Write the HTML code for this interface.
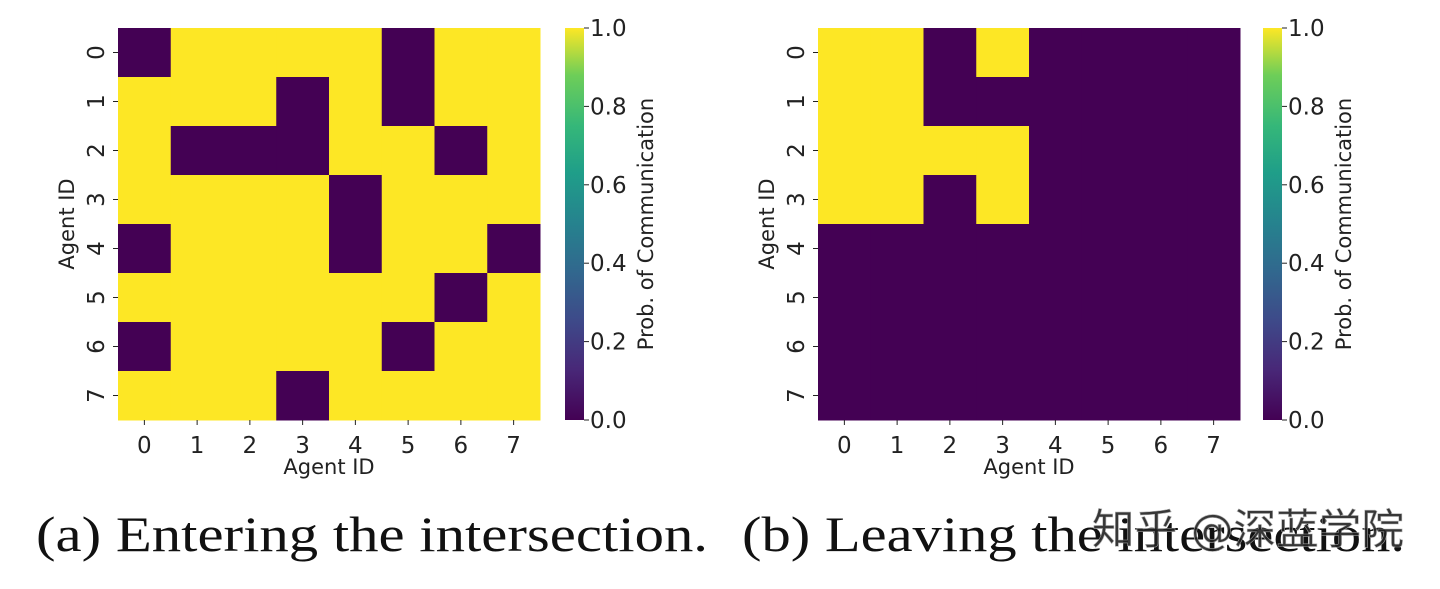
<!DOCTYPE html>
<html><head><meta charset="utf-8"><style>
html,body{margin:0;padding:0;background:#fff;width:1440px;height:589px;overflow:hidden}
svg{display:block}
text{font-family:"DejaVu Sans","Liberation Sans",sans-serif;fill:#222}
.cap{font-family:"Liberation Serif",serif;font-size:50px;fill:#111}
</style></head><body>
<svg id="chart" width="1440" height="589">
<defs>
<linearGradient id="viridis" x1="0" y1="1" x2="0" y2="0">
<stop offset="0" stop-color="#440154"/><stop offset="0.13" stop-color="#482878"/>
<stop offset="0.25" stop-color="#3e4989"/><stop offset="0.38" stop-color="#31688e"/>
<stop offset="0.5" stop-color="#26828e"/><stop offset="0.63" stop-color="#1f9e89"/>
<stop offset="0.75" stop-color="#35b779"/><stop offset="0.88" stop-color="#6ece58"/>
<stop offset="1" stop-color="#fde725"/></linearGradient>
</defs>
</svg>
<script>
const agents=[0,1,2,3,4,5,6,7];
const cbTicks=[0,0.2,0.4,0.6,0.8,1.0];
const matrixA=[
[0,1,1,1,1,0,1,1],
[1,1,1,0,1,0,1,1],
[1,0,0,0,1,1,0,1],
[1,1,1,1,0,1,1,1],
[0,1,1,1,0,1,1,0],
[1,1,1,1,1,1,0,1],
[0,1,1,1,1,0,1,1],
[1,1,1,0,1,1,1,1]];
const matrixB=[
[1,1,0,1,0,0,0,0],
[1,1,0,0,0,0,0,0],
[1,1,1,1,0,0,0,0],
[1,1,0,1,0,0,0,0],
[0,0,0,0,0,0,0,0],
[0,0,0,0,0,0,0,0],
[0,0,0,0,0,0,0,0],
[0,0,0,0,0,0,0,0]];
const captions=["(a) Entering the intersection.","(b) Leaving the intersection."];
const NS="http://www.w3.org/2000/svg";
const svg=document.getElementById('chart');
function mk(tag,attrs,parent){const e=document.createElementNS(NS,tag);for(const k in attrs)e.setAttribute(k,attrs[k]);(parent||svg).appendChild(e);return e;}
function color(v){return v>=0.5?'#fde725':'#440154';}
function panel(m,x0,cbx,capx,capw,idx){
  const g=mk('g',{});
  
  
  const W=422,H=392,y0=28,n=agents.length,cw=W/n,ch=H/n;
  const xs=i=>x0+i*cw, ys=j=>y0+j*ch;
  m.forEach((row,r)=>row.forEach((v,c)=>{
    const cell=mk('rect',{x:xs(c),y:ys(r),width:cw+0.5,height:ch+0.5,fill:color(v)},g);
    
    
  }));
  agents.forEach((a,i)=>{
    const tx=mk('text',{x:xs(i)+cw/2,y:y0+H+33,'font-size':23,'text-anchor':'middle'},g);tx.textContent=a;
    
    
    mk('line',{x1:xs(i)+cw/2,x2:xs(i)+cw/2,y1:y0+H,y2:y0+H+5,stroke:'#222'},g);
    const cy=ys(i)+ch/2;
    const ty=mk('text',{x:0,y:0,'font-size':23,'text-anchor':'middle',transform:`translate(${x0-14},${cy}) rotate(-90)`},g);ty.textContent=a;
    
    
    mk('line',{x1:x0-5,x2:x0,y1:cy,y2:cy,stroke:'#222'},g);
  });
  const xl=mk('text',{x:x0+W/2,y:y0+H+54,'font-size':21,'text-anchor':'middle'},g);xl.textContent='Agent ID';
  
  
  const yl=mk('text',{x:0,y:0,'font-size':21,'text-anchor':'middle',transform:`translate(${x0-44},${y0+H/2}) rotate(-90)`},g);yl.textContent='Agent ID';
  
  
  const cb=mk('rect',{x:cbx,y:y0,width:19,height:H,fill:'url(#viridis)'},g);
  
  
  cbTicks.forEach(t=>{
    const y=y0+H-t*H;
    mk('line',{x1:cbx+19,x2:cbx+24,y1:y,y2:y,stroke:'#222'},g);
    const tl=mk('text',{x:cbx+25,y:y+8,'font-size':23},g);tl.textContent=t.toFixed(1);
    
    
  });
  const cl=mk('text',{x:0,y:0,'font-size':21,'text-anchor':'middle',transform:`translate(${cbx+88},${y0+H/2}) rotate(-90)`},g);cl.textContent='Prob. of Communication';
  
  
  const cp=mk('text',{x:capx,y:551,class:'cap',textLength:capw,lengthAdjust:'spacingAndGlyphs'},g);cp.textContent=captions[idx];
  
  
}
panel(matrixA,118,565,36,672,0);
panel(matrixB,818,1263,742,663,1);
const wm=mk('text',{x:1092,y:544,'font-size':42,fill:'#ffffff',opacity:0.9,'font-family':'"Noto Sans CJK SC",sans-serif',stroke:'#aaa','stroke-width':0.6,textLength:312,lengthAdjust:'spacingAndGlyphs'});
wm.textContent='知乎 @深蓝学院';


</script>
</body></html>
